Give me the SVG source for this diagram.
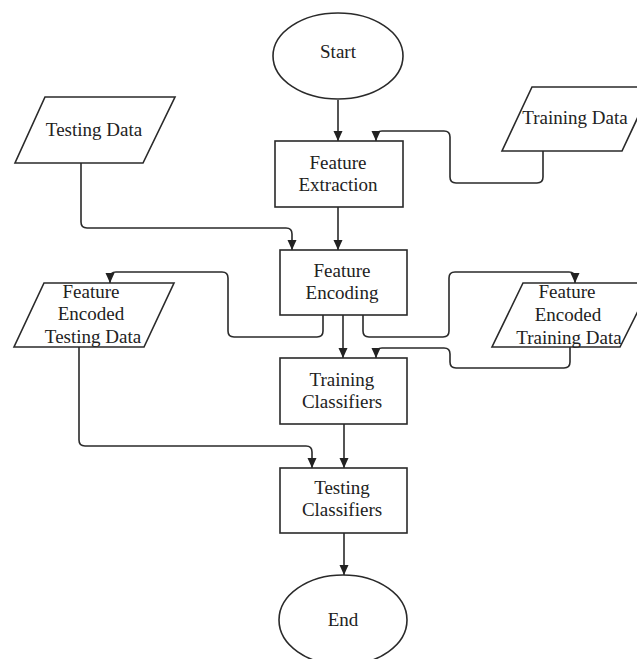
<svg xmlns="http://www.w3.org/2000/svg" width="637" height="659" viewBox="0 0 637 659">
<style>
.s{fill:#fff;stroke:#2a2a2a;stroke-width:1.6}
.c{fill:none;stroke:#2a2a2a;stroke-width:1.6;marker-end:url(#ah)}
text{font-family:"Liberation Serif","Times New Roman",serif;font-size:19px;fill:#222;text-anchor:middle}
</style>
<defs>
<marker id="ah" markerUnits="userSpaceOnUse" markerWidth="10" markerHeight="10" refX="10" refY="4.5" orient="auto">
<path d="M0,0 L10,4.5 L0,9 z" fill="#222"/>
</marker>
</defs>
<rect width="637" height="659" fill="#fff"/>
<g id="connectors">
<path class="c" d="M338,100 V141"/>
<path class="c" d="M543,151 V177 Q543,183 537,183 H456 Q450,183 450,177 V137 Q450,131 444,131 H382 Q376,131 376,137 V141"/>
<path class="c" d="M81,163 V222 Q81,228 87,228 H286 Q292,228 292,234 V250"/>
<path class="c" d="M338,207 V250"/>
<path class="c" d="M323,315 V331 Q323,337 317,337 H234 Q228,337 228,331 V278 Q228,272 222,272 H116 Q110,272 110,278 V283"/>
<path class="c" d="M343,315 V358"/>
<path class="c" d="M363,315 V331 Q363,337 369,337 H443 Q449,337 449,331 V278 Q449,272 455,272 H569 Q575,272 575,278 V283"/>
<path class="c" d="M570,347 V362 Q570,368 564,368 H456 Q450,368 450,362 V354 Q450,348 444,348 H382 Q376,348 376,354 V358"/>
<path class="c" d="M344,424 V468"/>
<path class="c" d="M79,347 V440 Q79,446 85,446 H306 Q312,446 312,452 V468"/>
<path class="c" d="M344,533 V575"/>
</g>
<g id="start">
<ellipse class="s" cx="338" cy="56" rx="65" ry="43"/>
<text x="338" y="58">Start</text>
</g>
<g id="testing-data">
<polygon class="s" points="45,97 175,97 143,163 15,163"/>
<text x="94" y="136">Testing Data</text>
</g>
<g id="training-data">
<polygon class="s" points="532,87 652,87 622,151 502,151"/>
<text x="575" y="124">Training Data</text>
</g>
<g id="feature-extraction">
<rect class="s" x="275" y="141" width="128" height="66"/>
<text x="338" y="169">Feature</text>
<text x="338" y="191">Extraction</text>
</g>
<g id="feature-encoding">
<rect class="s" x="280" y="250" width="127" height="65"/>
<text x="342" y="277">Feature</text>
<text x="342" y="299">Encoding</text>
</g>
<g id="fe-testing-data">
<polygon class="s" points="44,283 174,283 144,347 14,347"/>
<text x="91" y="298">Feature</text>
<text x="91" y="320">Encoded</text>
<text x="93" y="343">Testing Data</text>
</g>
<g id="fe-training-data">
<polygon class="s" points="523,283 652,283 620,347 492,347"/>
<text x="567" y="298">Feature</text>
<text x="568" y="321">Encoded</text>
<text x="569" y="344">Training Data</text>
</g>
<g id="training-classifiers">
<rect class="s" x="280" y="358" width="127" height="66"/>
<text x="342" y="386">Training</text>
<text x="342" y="408">Classifiers</text>
</g>
<g id="testing-classifiers">
<rect class="s" x="280" y="468" width="127" height="65"/>
<text x="342" y="494">Testing</text>
<text x="342" y="516">Classifiers</text>
</g>
<g id="end">
<ellipse class="s" cx="343" cy="620" rx="64" ry="45"/>
<text x="343" y="626">End</text>
</g>
</svg>
